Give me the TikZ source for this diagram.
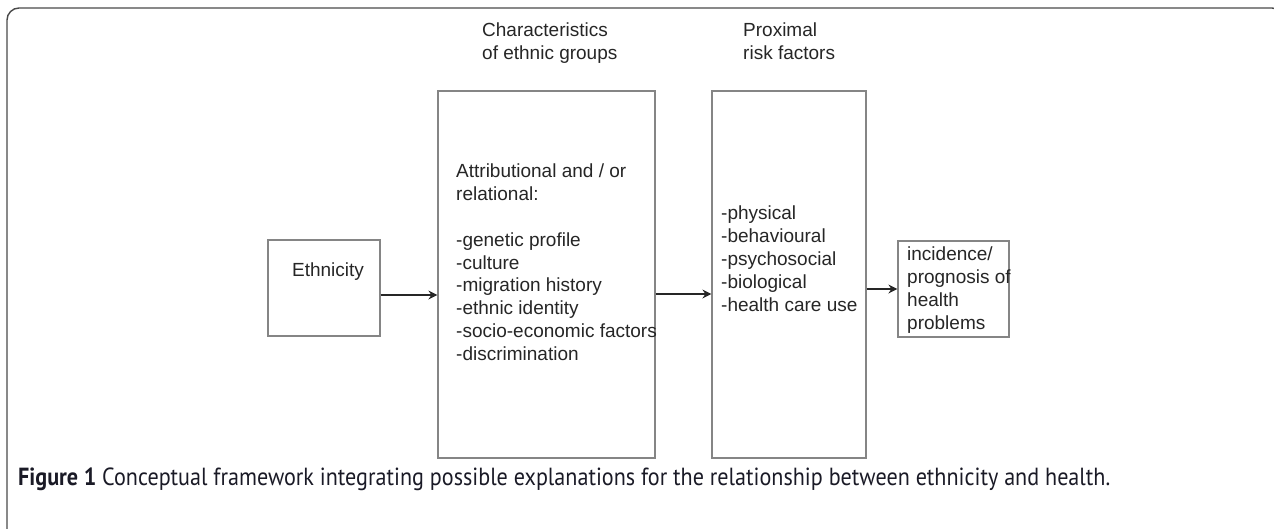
\documentclass[tikz,border=0pt]{standalone}
\usepackage{fontspec}
\setmainfont{Liberation Sans}
\newfontfamily\capfont{PT Sans}
\usetikzlibrary{arrows.meta,calc}
\definecolor{txt}{HTML}{262626}
\definecolor{boxline}{HTML}{858585}
\definecolor{framec}{HTML}{4A4A4A}
\definecolor{capc}{HTML}{1A1A26}
\tikzset{
  box/.style={draw=boxline, line width=1.2pt, fill=white, inner sep=0pt},
  lbl/.style={text=txt, inner sep=0pt, align=left, font=\fontsize{19}{22.8}\selectfont},
  arr/.style={draw=black!85, line width=2.2pt, -{Stealth[length=9pt,width=9pt,inset=3pt]}},
  frame/.style={draw=framec, line width=1.4pt, rounded corners=12pt}
}
\begin{document}
\begin{tikzpicture}[x=1pt,y=-1pt]
\useasboundingbox (0,0) rectangle (1274,528);
\clip (0,0) rectangle (1274,528);
\draw[frame] (7,8) rectangle (1284,580);

% boxes
\node[box, minimum width=112pt, minimum height=96pt] (eth) at (324,288) {};
\node[box, minimum width=217pt, minimum height=367pt] (chr) at (546.5,274.5) {};
\node[box, minimum width=154pt, minimum height=367pt] (prx) at (789,274.5) {};
\node[box, minimum width=111pt, minimum height=96pt] (out) at (953.5,289) {};

% headers
\node[lbl, anchor=north west] (hchr) at (482,23) {Characteristics\\of ethnic groups};
\node[lbl, anchor=north west] (hprx) at (743,23) {Proximal\\risk factors};

% box texts
\node[lbl, anchor=center] (teth) at (328,272) {Ethnicity};
\node[lbl, anchor=north west] (tchr) at (456,164) {Attributional and / or\\relational:\\[22.8pt]-genetic profile\\-culture\\-migration history\\-ethnic identity\\-socio-economic factors\\-discrimination};
\node[lbl, anchor=north west] (tprx) at (721,206) {-physical\\-behavioural\\-psychosocial\\-biological\\-health care use};
\node[lbl, anchor=north west] (tout) at (907,247) {incidence/\\prognosis of\\health\\problems};

% arrows
\draw[arr] ([yshift=-7pt]eth.east) -- ([yshift=-7pt]eth.east -| chr.west);
\draw[arr] ([yshift=-19.5pt]chr.east) -- ([yshift=-19.5pt]chr.east -| prx.west);
\draw[arr] (out.west -| prx.east) -- (out.west);

% caption
\node[anchor=west, inner sep=0pt, text=capc] (cap) at (18,479) {\scalebox{1}[1.12]{\resizebox{1092pt}{!}{\capfont\textbf{Figure 1} Conceptual framework integrating possible explanations for the relationship between ethnicity and health.}}};
\end{tikzpicture}
\end{document}
